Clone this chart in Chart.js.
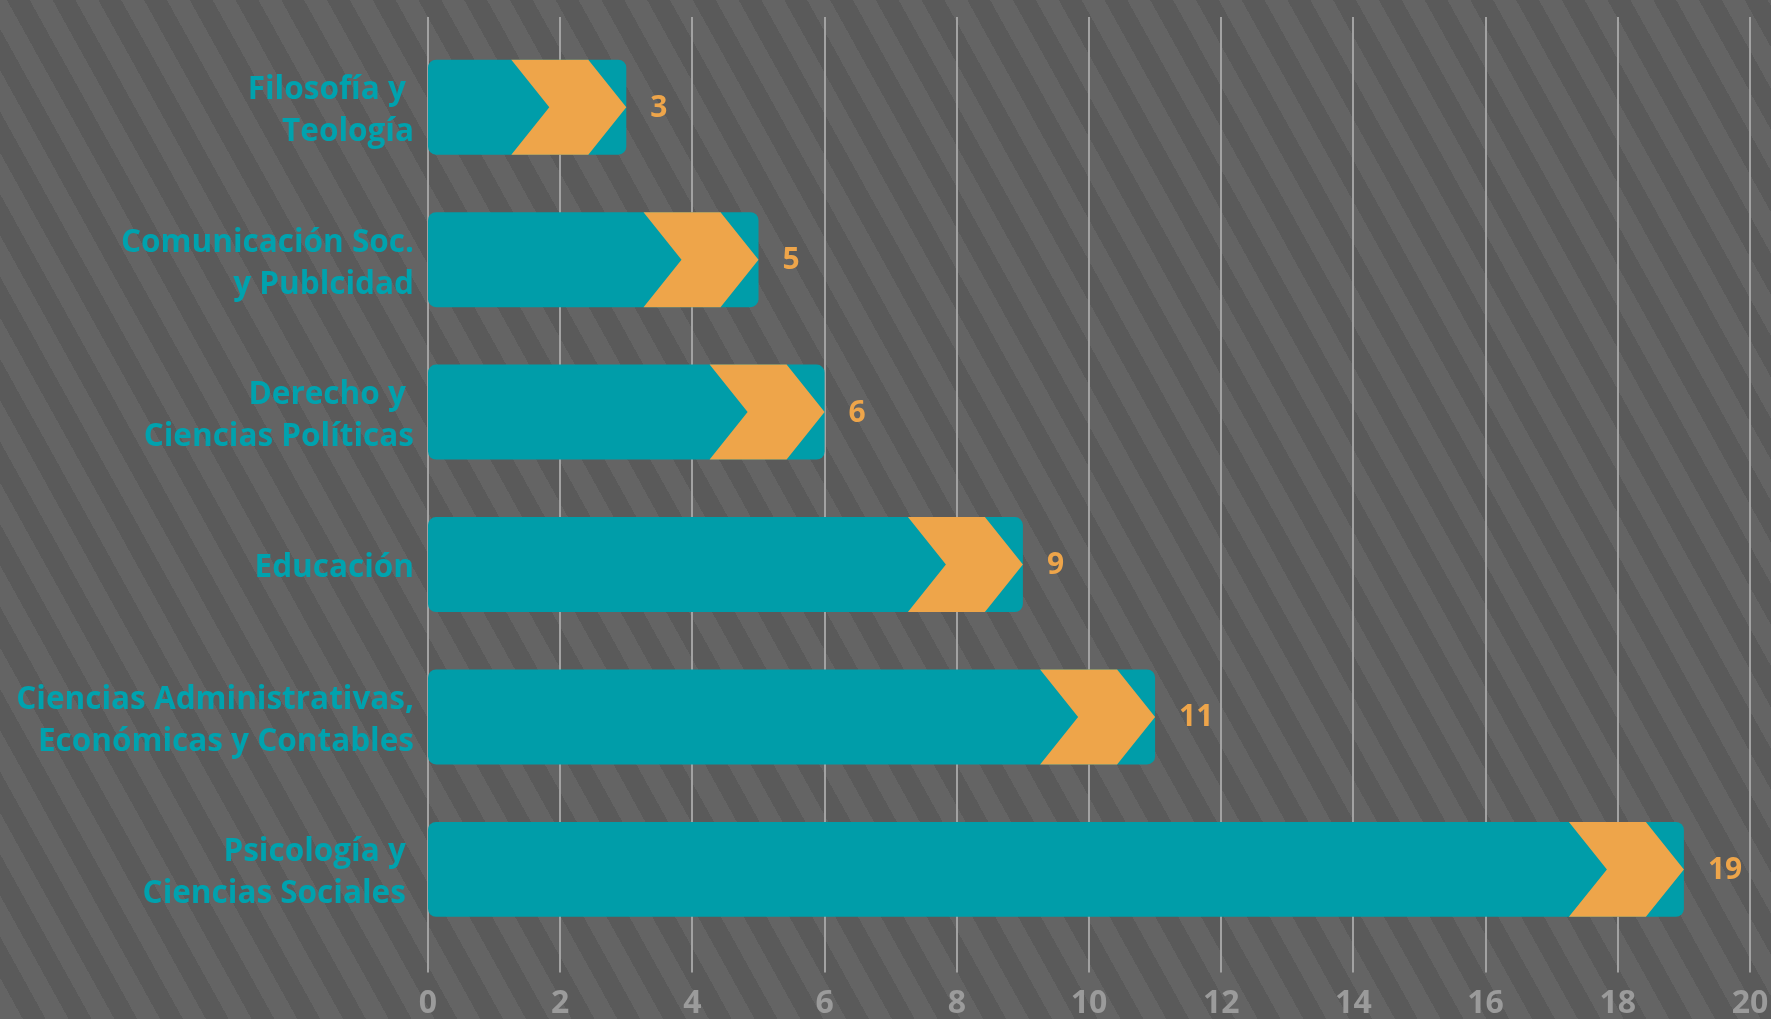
<!DOCTYPE html>
<html>
<head>
<meta charset="utf-8">
<script src="https://cdn.jsdelivr.net/npm/chart.js@4.4.1/dist/chart.umd.min.js"></script>
<style>
  html, body { margin: 0; padding: 0; overflow: hidden; }
  body {
    width: 1771px;
    height: 1019px;
    background: repeating-linear-gradient(61deg, #646464 0px, #646464 20px, #5a5a5a 20px, #5a5a5a 40px);
  }
  canvas { display: block; }
</style>
</head>
<body>
<!-- taller than the window on purpose: the tick labels get cut at the bottom like the original -->
<canvas id="chart" width="1771" height="1062"></canvas>
<script>
// data
const categories = [
  ["Filosofía y ", "Teología"],
  ["Comunicación Soc.", "y Publcidad"],
  ["Derecho y ", "Ciencias Políticas"],
  "Educación",
  ["Ciencias Administrativas,", "Económicas y Contables"],
  ["Psicología y ", "Ciencias Sociales "]
];
const values = [3, 5, 6, 9, 11, 19];
const xMin = 0;
const xMax = 20;
const xStep = 2;

// colours
const teal = "#009DA9";
const tealText = "#00A2AE";
const orange = "#EEA54A";
const gridColor = "#A2A2A2";
const tickColor = "#9B9B9B";

Chart.defaults.font.family = "'Open Sans', sans-serif";

// grid lines run a bit past the plot area, so draw them by hand from the x scale
// then the orange chevron + value on top of each bar
const chevrons = {
  id: "chevrons",
  beforeDatasetsDraw(chart) {
    const { ctx, chartArea, scales } = chart;
    const x = scales.x;
    ctx.save();
    ctx.strokeStyle = gridColor;
    ctx.lineWidth = 2;
    x.ticks.forEach((t) => {
      const px = Math.round(x.getPixelForValue(t.value));
      ctx.beginPath();
      ctx.moveTo(px, chartArea.top - 14);
      ctx.lineTo(px, chartArea.bottom + 27);
      ctx.stroke();
    });
    ctx.restore();
  },
  afterDatasetsDraw(chart) {
    const { ctx } = chart;
    const meta = chart.getDatasetMeta(0);
    ctx.save();
    meta.data.forEach((bar, i) => {
      const { x, y, height } = bar.getProps(["x", "y", "height"], true);
      const top = y - height / 2;
      const bottom = y + height / 2;
      ctx.fillStyle = orange;
      ctx.beginPath();
      ctx.moveTo(x - 115, top);
      ctx.lineTo(x - 38, top);
      ctx.lineTo(x, y);
      ctx.lineTo(x - 38, bottom);
      ctx.lineTo(x - 115, bottom);
      ctx.lineTo(x - 77, y);
      ctx.closePath();
      ctx.fill();

      ctx.font = "bold 30px 'Open Sans'";
      ctx.textAlign = "left";
      ctx.textBaseline = "middle";
      ctx.fillText(String(values[i]), x + 24, y + 1);
    });
    ctx.restore();
  }
};

new Chart(document.getElementById("chart"), {
  type: "bar",
  data: {
    labels: categories,
    datasets: [{
      data: values,
      backgroundColor: teal,
      borderRadius: 8,
      borderSkipped: false,
      barPercentage: 0.623,
      categoryPercentage: 1
    }]
  },
  options: {
    indexAxis: "y",
    responsive: false,
    animation: false,
    layout: { padding: { top: 31, right: 21, bottom: 0, left: 0 } },
    plugins: {
      legend: { display: false },
      tooltip: { enabled: false }
    },
    scales: {
      x: {
        min: xMin,
        max: xMax,
        grid: { display: false, drawTicks: false },
        border: { display: false },
        afterFit(scale) {
          // keep chart.js from padding the plot for the end labels
          scale.paddingLeft = 0;
          scale.paddingRight = 0;
        },
        ticks: {
          stepSize: xStep,
          padding: 39,
          color: tickColor,
          font: { size: 32, weight: "bold" }
        }
      },
      y: {
        grid: { display: false, drawTicks: false },
        border: { display: false },
        afterFit(scale) {
          scale.width = 428;
          scale.paddingTop = 0;
          scale.paddingBottom = 0;
        },
        ticks: {
          padding: 14,
          labelOffset: 4,
          color: tealText,
          font: { size: 31.5, weight: "bold", lineHeight: 1.33 }
        }
      }
    }
  },
  plugins: [chevrons]
});
</script>
</body>
</html>
